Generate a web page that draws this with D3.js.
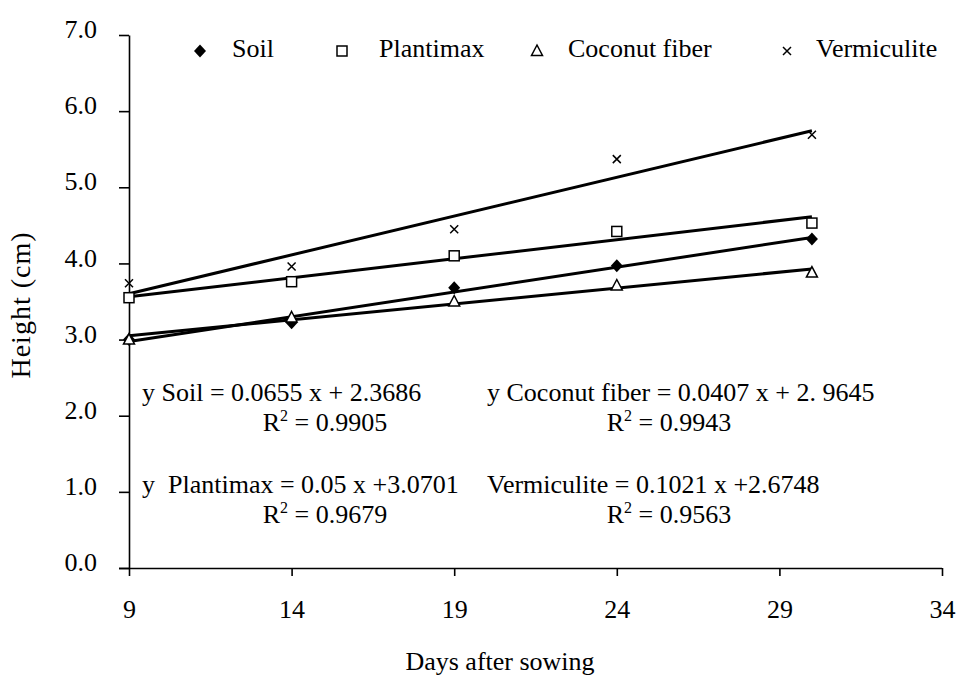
<!DOCTYPE html>
<html>
<head>
<meta charset="utf-8" />
<script src="https://d3js.org/d3.v7.min.js"></script>
<style>
  body { margin: 0; background: #fff; }
  svg text { font-family: "Liberation Serif", "Times New Roman", serif; fill: #000; }
</style>
</head>
<body>
<div id="visu"></div>
<script>
// Dimensions
const largeur = 957;
const hauteur = 675;
const taille = '26px';

// Data
const jours = [9, 14, 19, 24, 30];
const soil = [3.0, 3.22, 3.68, 3.97, 4.32];
const plantimax = [3.55, 3.76, 4.10, 4.42, 4.53];
const coconut = [3.0, 3.29, 3.50, 3.71, 3.88];
const vermiculite = [3.74, 3.96, 4.45, 5.37, 5.69];

const noms = ["Soil", "Plantimax", "Coconut fiber", "Vermiculite"];
const symboles = ["diamond", "square", "triangle", "cross"];
const xTicks = [9, 14, 19, 24, 29, 34];
const yTicks = [0, 1, 2, 3, 4, 5, 6, 7];

const equations = [
  "y Soil = 0.0655 x + 2.3686",
  "y Coconut fiber = 0.0407 x + 2. 9645",
  "y  Plantimax = 0.05 x +3.0701",
  "Vermiculite = 0.1021 x +2.6748"
];
const r2 = ["0.9905", "0.9943", "0.9679", "0.9563"];

const series = [soil, plantimax, coconut, vermiculite];

const svg = d3.select('#visu').append('svg')
  .attr('width', largeur)
  .attr('height', hauteur);

// Scales
const x = d3.scaleLinear().domain([9, 34]).range([129, 942]);
const y = d3.scaleLinear().domain([0, 7]).range([568, 35]);

// Axes
const axeX = d3.axisBottom(x).tickValues(xTicks).tickSize(8).tickSizeOuter(0).tickPadding(24);
const gx = svg.append('g')
  .attr('transform', `translate(0, ${y(0)})`)
  .call(axeX);
gx.select('.domain').attr('d', `M${x(9) - 10},0.5H${x(34)}`);

const axeY = d3.axisLeft(y).tickValues(yTicks).tickSize(10).tickSizeOuter(0)
  .tickPadding(22).tickFormat(d3.format('.1f'));
const gy = svg.append('g')
  .attr('transform', `translate(${x(9)}, 0)`)
  .call(axeY);

svg.selectAll('.domain, .tick line').attr('stroke', '#000').attr('stroke-width', 1.6);
svg.selectAll('.tick text').style('font-size', taille);
gy.selectAll('.tick text').attr('dy', '0.1em');

// Axis titles
svg.append('text')
  .attr('x', 500).attr('y', 670)
  .attr('text-anchor', 'middle')
  .style('font-size', taille)
  .text('Days after sowing');

svg.append('text')
  .attr('transform', `translate(30, 305) rotate(-90)`)
  .attr('text-anchor', 'middle')
  .style('font-size', '28px')
  .style('letter-spacing', '1px')
  .text('Height (cm)');

// Symbols
function symbole(g, type, cx, cy) {
  if (type === 'diamond') {
    g.append('path')
      .attr('d', `M${cx},${cy - 6.5}L${cx + 6},${cy}L${cx},${cy + 6.5}L${cx - 6},${cy}Z`)
      .attr('fill', '#000');
  } else if (type === 'square') {
    g.append('rect')
      .attr('x', cx - 5).attr('y', cy - 5).attr('width', 10).attr('height', 10)
      .attr('fill', '#fff').attr('stroke', '#000').attr('stroke-width', 1.5);
  } else if (type === 'triangle') {
    g.append('path')
      .attr('d', `M${cx},${cy - 6}L${cx + 5.5},${cy + 4.5}L${cx - 5.5},${cy + 4.5}Z`)
      .attr('fill', '#fff').attr('stroke', '#000').attr('stroke-width', 1.5);
  } else {
    g.append('path')
      .attr('d', `M${cx - 4},${cy - 4}L${cx + 4},${cy + 4}M${cx + 4},${cy - 4}L${cx - 4},${cy + 4}`)
      .attr('stroke', '#000').attr('stroke-width', 1.5);
  }
}

// Least squares trend lines
const ligneGen = d3.line().x(d => x(d[0])).y(d => y(d[1]));
series.forEach(vals => {
  const mx = d3.mean(jours), my = d3.mean(vals);
  const sxy = d3.sum(jours, (j, i) => (j - mx) * (vals[i] - my));
  const sxx = d3.sum(jours, j => (j - mx) * (j - mx));
  const pente = sxy / sxx, origine = my - pente * mx;
  const x0 = d3.min(jours), x1 = d3.max(jours);
  svg.append('path')
    .datum([[x0, origine + pente * x0], [x1, origine + pente * x1]])
    .attr('d', ligneGen)
    .attr('fill', 'none')
    .attr('stroke', '#000')
    .attr('stroke-width', 3);
});

// Points
const gPoints = svg.append('g');
series.forEach((vals, s) => {
  vals.forEach((v, i) => symbole(gPoints, symboles[s], x(jours[i]), y(v)));
});

// Legend
const legendeX = [200, 342, 537, 787];
const texteX = [232, 379, 568, 816];
const gLeg = svg.append('g');
noms.forEach((n, i) => {
  symbole(gLeg, symboles[i], legendeX[i], 51);
  gLeg.append('text')
    .attr('x', texteX[i]).attr('y', 57)
    .style('font-size', taille)
    .text(n);
});

// Equations
const eqX = [142, 487, 142, 487];
const eqY = [401, 401, 493, 493];
const r2X = [325, 669, 325, 669];
equations.forEach((e, i) => {
  svg.append('text')
    .attr('x', eqX[i]).attr('y', eqY[i])
    .style('font-size', taille)
    .style('white-space', 'pre')
    .text(e);
  const t = svg.append('text')
    .attr('x', r2X[i]).attr('y', eqY[i] + 30)
    .attr('text-anchor', 'middle')
    .style('font-size', taille);
  t.append('tspan').text('R');
  t.append('tspan').attr('dy', -10).style('font-size', '16px').text('2');
  t.append('tspan').attr('dy', 10).text(' = ' + r2[i]);
});
</script>
</body>
</html>
